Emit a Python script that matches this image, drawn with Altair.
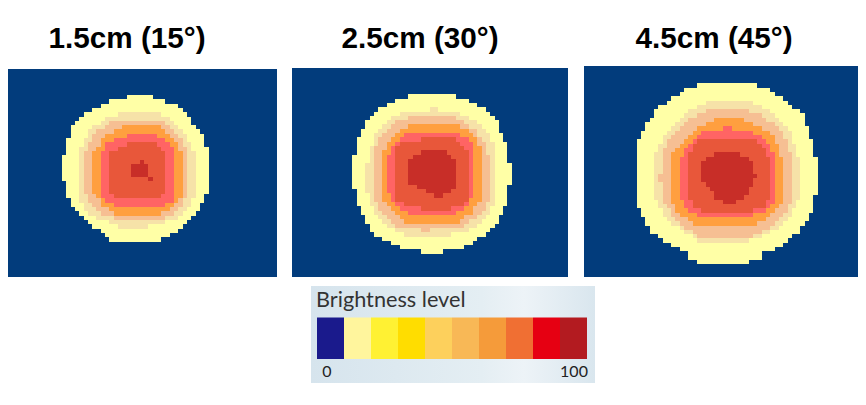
import altair as alt
import pandas as pd

TITLES = ["1.5cm (15°)", "2.5cm (30°)", "4.5cm (45°)"]
TITLE_X = [127, 420, 714]
PANEL_BOXES = [(2, 277, 69, 277), (292, 568, 68, 277), (584, 860, 66, 277)]
GRID_ORIGIN = [(62.0, 95.0), (352.3, 94.3), (636.7, 83.3)]
CELL = 4.31

BACKGROUND = "#023C7C"
LEVELS = ["#FFFFA6", "#F6E2A8", "#F6BF93", "#FF9F3F", "#FF6464", "#E8573A", "#C82E28"]

# Each contour: (level index, first row, [(left column, right column), ...])
PANEL_1 = [
    (0, 0, [(15,21),(11,24),(9,27),(7,28),(5,29),(4,30),(3,30),(2,31),(2,32),(2,33),(1,33),(1,33),(1,34),(1,34),
            (0,34),(0,34),(0,34),(0,34),(0,34),(0,34),(1,34),(1,34),(1,34),(1,33),(2,33),(2,32),(3,32),(4,31),
            (5,30),(6,29),(7,28),(9,27),(10,25),(11,23)]),
    (1, 4, [(13,23),(10,25),(9,26),(7,27),(6,28),(6,29),(5,29),(5,30),(4,30),(4,31),(4,31),(4,31),(4,31),(4,31),
            (4,31),(4,31),(4,31),(4,31),(4,31),(4,31),(4,30),(5,30),(5,29),(6,28),(8,27),(11,24),(13,20)]),
    (2, 6, [(11,24),(10,25),(8,26),(7,27),(7,28),(6,28),(6,29),(5,29),(5,29),(5,29),(5,29),(5,29),(5,29),(5,29),
            (5,29),(5,29),(5,29),(6,29),(6,28),(7,28),(8,27),(9,26),(12,24)]),
    (3, 7, [(14,23),(12,24),(10,25),(9,26),(9,27),(8,27),(7,28),(7,28),(7,28),(7,28),(7,28),(7,28),(7,28),(7,28),
            (7,28),(7,28),(8,28),(9,27),(9,26),(11,25),(12,23)]),
    (4, 9, [(15,22),(12,24),(10,25),(10,26),(9,26),(9,26),(9,26),(9,26),(9,26),(9,26),(9,26),(9,26),(9,26),(9,26),
            (9,26),(10,26),(12,24)]),
    (5, 11, [(15,22),(13,23),(11,24),(11,24),(11,24),(11,24),(11,24),(11,24),(11,24),(11,24),(11,24),(11,24),(12,23)]),
    (6, 15, [(18,19),(16,20),(16,20),(16,20)]),
    (6, 19, [(20,21)]),
]
PANEL_2 = [
    (0, 0, [(13,24),(10,27),(8,29),(6,31),(5,32),(4,33),(3,34),(3,34),(2,34),(2,35),(1,35),(1,36),(1,36),(1,36),
            (0,36),(0,36),(0,37),(0,37),(0,37),(0,37),(0,37),(0,36),(1,36),(1,36),(1,36),(1,36),(2,35),(2,35),
            (3,34),(3,34),(4,33),(4,32),(5,31),(7,29),(9,28),(11,26),(16,21)]),
    (1, 3, [(18,20),(11,25),(9,27),(8,29),(7,30),(6,31),(5,32),(5,32),(5,33),(4,33),(4,33),(4,33),(4,33),(3,33),
            (3,33),(3,33),(3,33),(3,33),(3,33),(3,33),(4,33),(4,33),(4,33),(5,32),(5,32),(6,31),(7,30),(8,29),
            (10,27),(12,23)]),
    (2, 5, [(13,24),(10,26),(9,27),(8,29),(7,29),(6,30),(6,31),(5,31),(5,31),(5,32),(5,32),(5,32),(5,32),(5,32),
            (5,32),(5,32),(5,32),(5,32),(5,32),(5,32),(6,31),(6,31),(7,30),(8,29),(9,27),(10,26),(16,18)]),
    (3, 7, [(13,25),(11,27),(10,28),(9,29),(8,29),(8,30),(7,30),(7,30),(7,30),(7,30),(7,30),(7,30),(7,30),(7,30),
            (7,30),(7,30),(7,30),(7,30),(8,29),(9,28),(10,28),(11,26),(12,25)]),
    (4, 9, [(12,25),(11,27),(10,28),(9,28),(9,28),(8,28),(8,28),(8,28),(8,28),(8,28),(8,28),(8,28),(8,28),(8,28),
            (9,28),(9,27),(10,27),(11,26),(13,24)]),
    (5, 10, [(16,24),(11,25),(10,26),(10,27),(10,27),(10,27),(10,27),(10,27),(10,27),(10,27),(10,27),(10,27),
             (10,27),(10,27),(10,27),(12,26),(16,23)]),
    (6, 13, [(16,22),(14,23),(13,24),(13,24),(13,24),(13,24),(13,24),(13,24),(15,24),(17,23),(19,21)]),
]
PANEL_3 = [
    (0, 0, [(14,28),(11,31),(10,32),(8,34),(7,35),(5,36),(4,38),(4,39),(3,39),(2,39),(2,40),(1,40),(1,40),(0,41),
            (0,41),(0,41),(0,41),(0,42),(0,42),(0,42),(0,42),(0,42),(0,42),(0,42),(0,42),(0,42),(0,41),(0,41),
            (0,41),(1,41),(1,40),(2,40),(2,39),(3,38),(3,38),(5,36),(6,35),(8,34),(10,32),(12,29),(12,29),(14,26)]),
    (1, 4, [(16,27),(14,29),(12,31),(11,32),(10,33),(9,34),(8,35),(7,36),(6,36),(6,36),(5,37),(5,37),(4,37),(4,38),
            (4,38),(4,38),(4,38),(4,38),(4,38),(4,38),(4,38),(4,38),(4,38),(5,37),(5,37),(6,36),(6,36),(7,35),
            (8,34),(10,33),(11,31),(13,29),(14,26)]),
    (2, 6, [(16,26),(14,29),(12,30),(11,32),(10,33),(9,34),(8,34),(7,35),(7,35),(6,35),(6,36),(6,36),(6,36),(6,36),
            (6,36),(5,36),(5,36),(6,36),(6,36),(6,36),(6,36),(6,36),(7,35),(8,35),(8,34),(9,33),(10,32),(11,31),
            (13,29),(14,27)]),
    (3, 8, [(18,25),(16,27),(14,29),(13,31),(12,32),(11,32),(10,33),(9,33),(8,33),(8,34),(8,34),(8,34),(8,34),(8,34),
            (8,34),(8,34),(8,34),(8,34),(8,34),(8,34),(9,33),(9,32),(10,31),(12,30),(13,28)]),
    (4, 10, [(20,22),(15,27),(14,29),(13,30),(12,31),(11,31),(11,32),(10,32),(10,32),(10,32),(10,32),(10,32),(10,32),
             (10,32),(10,32),(10,32),(10,32),(11,32),(11,31),(12,30),(14,27)]),
    (5, 13, [(14,28),(13,29),(13,30),(12,30),(12,31),(12,31),(12,31),(12,31),(12,31),(12,31),(12,31),(12,31),(12,31),
             (12,31),(13,30),(13,30),(15,27)]),
    (6, 16, [(18,24),(16,26),(15,27),(15,27),(15,27),(15,28),(15,27),(16,27),(17,26),(18,26),(18,25),(20,23)]),
]
PANELS = [PANEL_1, PANEL_2, PANEL_3]

LEGEND_BOX = (311, 595, 286, 383)
LEGEND_TITLE = "Brightness level"
LEGEND_SWATCHES = ["#1A1A8C", "#FFF59D", "#FFF133", "#FFDD00", "#FDD05C",
                   "#F8B856", "#F59B3A", "#F06F33", "#E60012", "#B31B20"]
LEGEND_LABELS = ["0", "100"]

cells = []
for box in PANEL_BOXES:
    cells.append(dict(x=max(box[0], 8), x2=box[1], y=box[2], y2=box[3], fill=BACKGROUND))
for (ox, oy), contours in zip(GRID_ORIGIN, PANELS):
    for level, first, spans in contours:
        for i, (left, right) in enumerate(spans):
            cells.append(dict(x=round(ox + left * CELL), x2=round(ox + right * CELL),
                              y=round(oy + (first + i) * CELL), y2=round(oy + (first + i + 1) * CELL),
                              fill=LEVELS[level]))
cells_df = pd.DataFrame(cells)

X = alt.Scale(domain=[8, 858], nice=False, zero=False)
Y = alt.Scale(domain=[397, 8], nice=False, zero=False)


def xy(**extra):
    return dict(x=alt.X("x:Q", scale=X, axis=None), y=alt.Y("y:Q", scale=Y, axis=None), **extra)


heat = alt.Chart(cells_df).mark_rect().encode(
    **xy(x2="x2:Q", y2="y2:Q", color=alt.Color("fill:N", scale=None)),
)

titles = alt.Chart(pd.DataFrame({"x": TITLE_X, "y": [47.5] * 3, "t": TITLES})).mark_text(
    font="Liberation Sans", fontWeight="bold", fontSize=29.7, color="#000000",
    align="center", baseline="alphabetic",
).encode(**xy(text="t:N"))

legend_bg = alt.Chart(pd.DataFrame([dict(x=LEGEND_BOX[0], x2=LEGEND_BOX[1], y=LEGEND_BOX[2], y2=LEGEND_BOX[3])])).mark_rect(
    color=alt.Gradient(gradient="linear", x1=0, x2=1, y1=0, y2=0, stops=[
        alt.GradientStop(color="#D6E4ED", offset=0),
        alt.GradientStop(color="#E4EEF3", offset=0.6),
        alt.GradientStop(color="#EDF3F7", offset=0.75),
        alt.GradientStop(color="#D9E6EE", offset=1),
    ])
).encode(**xy(x2="x2:Q", y2="y2:Q"))

SW_LEFT, SW_W = 317, 27.0
swatches = pd.DataFrame([
    dict(x=SW_LEFT + i * SW_W, x2=SW_LEFT + (i + 1) * SW_W, y=317.5, y2=359, fill=c)
    for i, c in enumerate(LEGEND_SWATCHES)
])
legend_sw = alt.Chart(swatches).mark_rect().encode(
    **xy(x2="x2:Q", y2="y2:Q", color=alt.Color("fill:N", scale=None)))

legend_title = alt.Chart(pd.DataFrame({"x": [316], "y": [307], "t": [LEGEND_TITLE]})).mark_text(
    font="Lato", fontSize=21.7, color="#333333", align="left", baseline="alphabetic"
).encode(**xy(text="t:N"))

legend_labels = alt.Chart(pd.DataFrame({"x": [327, 574], "y": [377, 377], "t": LEGEND_LABELS})).mark_text(
    font="Lato", fontSize=16, color="#222222", align="center", baseline="alphabetic"
).encode(**xy(text="t:N"))

chart = alt.layer(heat, titles, legend_bg, legend_sw, legend_title, legend_labels).properties(
    width=850, height=389, padding=0, background="#FFFFFF",
    autosize=alt.AutoSizeParams(type="none"),
).configure_view(stroke=None)

chart.save("out.html", embed_options={"renderer": "svg", "actions": False})
